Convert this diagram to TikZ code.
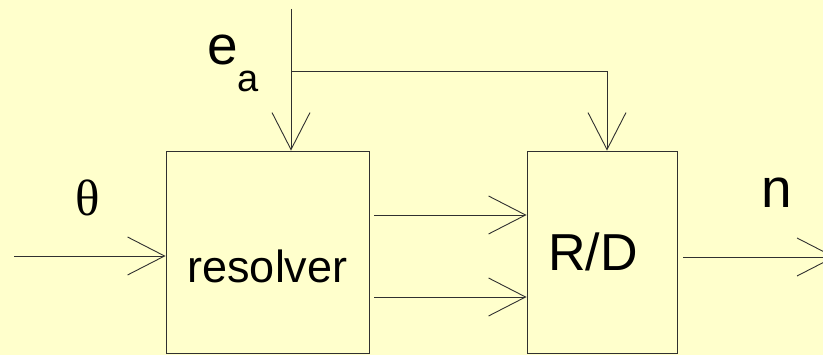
\documentclass[tikz,border=0pt]{standalone}
\usepackage{fontspec}
\setmainfont{Liberation Sans}
\newfontfamily\greekserif{Liberation Serif}
\usetikzlibrary{arrows.meta}
\definecolor{paper}{HTML}{FFFFCC}
\definecolor{ink}{HTML}{303030}
\tikzset{
  block/.style={draw=ink, line width=0.9pt, fill=paper, inner sep=0pt},
  signal/.style={draw=ink, line width=0.9pt,
    -{Straight Barb[length=37pt,width=38pt,line width=0.9pt]}},
  lbl/.style={inner sep=0pt, text=black},
}
\begin{document}
\begin{tikzpicture}[x=1pt,y=-1pt]
  % page and background
  \useasboundingbox (0,0) rectangle (823,355);
  \fill[paper] (0,0) rectangle (823,355);
  \clip (0,0) rectangle (823,355);

  % blocks
  \node[block, minimum width=203pt, minimum height=202pt] (res) at (267.5,252) {};
  \node[block, minimum width=150pt, minimum height=202pt] (rd) at (602,252) {};

  % block texts
  \node[lbl, anchor=base, font=\fontsize{45}{45}\selectfont] (restext) at (267.5,283) {resolver};
  \node[lbl, anchor=base, font=\fontsize{52}{52}\selectfont] (rdtext) at (593,271) {R/D};

  % signal labels
  \node[lbl, anchor=base, font=\greekserif\fontsize{51}{51}\selectfont] (theta) at (88,216) {θ};
  \node[lbl, anchor=base west] (ea) at (207,65)
    {{\fontsize{55}{55}\selectfont e}{\fontsize{38}{38}\selectfont\raisebox{-27pt}{a}}};
  \node[lbl, anchor=base, font=\fontsize{55}{55}\selectfont] (n) at (777,208) {n};

  % free ends of the signal lines
  \coordinate (thin) at (14,256);
  \coordinate (eatop) at (291,9);
  \coordinate (branch) at (291,71);
  \coordinate (out1) at (374,215);
  \coordinate (out2) at (374,297);
  \coordinate (nout) at (835,257);

  % connectors
  \draw[signal] (thin) -- (res.west |- thin);
  \draw[signal] (eatop) -- (eatop |- res.north);
  \draw[signal] (branch) -| ([xshift=5pt]rd.north);
  \draw[signal] (out1) -- (out1 -| rd.west);
  \draw[signal] (out2) -- (out2 -| rd.west);
  \draw[signal] ([xshift=6pt]rd.east |- nout) -- (nout);
\end{tikzpicture}
\end{document}
